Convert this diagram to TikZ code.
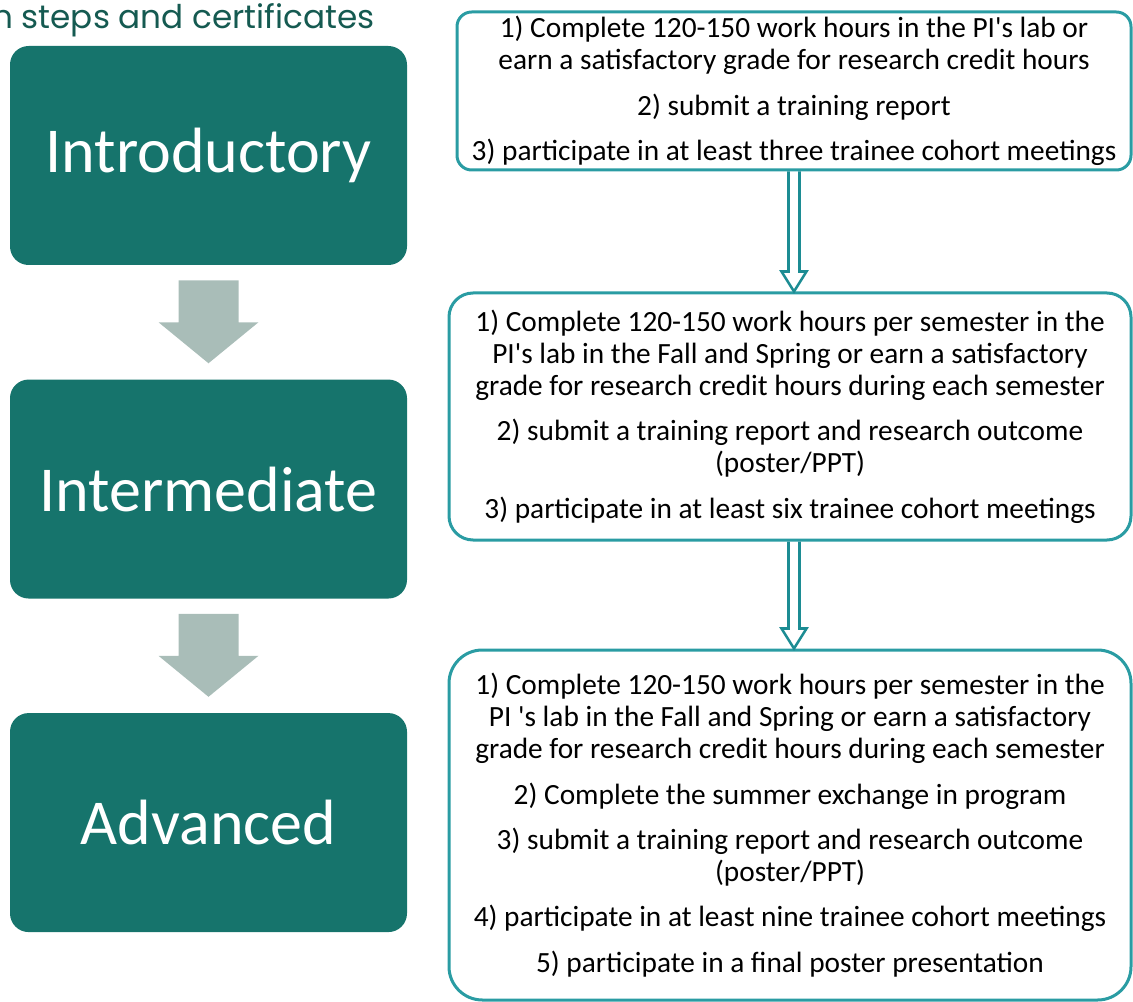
\documentclass[tikz,border=0pt]{standalone}
\usepackage{fontspec}
\setmainfont{Carlito}[Ligatures=TeXOff]
\newfontfamily\headfont{Poppins}
\usetikzlibrary{positioning,calc}

\definecolor{stageteal}{HTML}{16746C}
\definecolor{framecyan}{HTML}{2A9CA3}
\definecolor{linkteal}{HTML}{1C8C93}
\definecolor{stepgray}{HTML}{A9BDB8}
\definecolor{headgreen}{HTML}{155A51}

\tikzset{
  heading/.style={text=headgreen,font=\headfont\fontsize{24.5}{28}\selectfont,inner sep=0pt},
  stage/.style={fill=stageteal,text=white,rounded corners=14pt,
    minimum width=297.75pt,minimum height=164.25pt,font=\fontsize{48}{52}\selectfont},
  reqbox/.style={draw=framecyan,line width=2.25pt,align=center,inner sep=0pt,
    font=\fontsize{22}{24}\selectfont},
  steparrow/.style={fill=stepgray},
  linkarrow/.style={draw=linkteal,line width=1.9pt}
}

\begin{document}
\begin{tikzpicture}[x=0.75pt,y=-0.75pt,node distance=85.5pt]
\useasboundingbox (0,0) rectangle (1133,1002);

% heading, runs off the left edge
\node[heading,anchor=base east] (title) at (375,29) {n steps and certificates};

% the three stages
\node[stage] (intro) at (208.5,155.5) {Introductory};
\node[stage,below=of intro] (inter) {Intermediate};
\node[stage,below=of inter] (adv) {Advanced};

% requirements for each stage
\node[reqbox,minimum width=505.5pt,minimum height=118.5pt,rounded corners=11pt] (req1) at (794,91)
  {1) Complete 120-150 work hours in the PI's lab or\\
   earn a satisfactory grade for research credit hours\\[10pt]
   2) submit a training report\\[10pt]
   3) participate in at least three trainee cohort meetings};
\node[reqbox,minimum width=511.5pt,minimum height=185.25pt,rounded corners=18pt] (req2) at (790,416.5)
  {1) Complete 120-150 work hours per semester in the\\
   PI's lab in the Fall and Spring or earn a satisfactory\\
   grade for research credit hours during each semester\\[10pt]
   2) submit a training report and research outcome\\
   (poster/PPT)\\[10pt]
   3) participate in at least six trainee cohort meetings};
\node[reqbox,minimum width=511.5pt,minimum height=262.5pt,rounded corners=25pt] (req3) at (790,825)
  {1) Complete 120-150 work hours per semester in the\\
   PI 's lab in the Fall and Spring or earn a satisfactory\\
   grade for research credit hours during each semester\\[10pt]
   2) Complete the summer exchange in program\\[10pt]
   3) submit a training report and research outcome\\
   (poster/PPT)\\[10pt]
   4) participate in at least nine trainee cohort meetings\\[10pt]
   5) participate in a final poster presentation};

% block arrows between stages
\foreach \a/\b in {intro/inter,inter/adv}
  \fill[steparrow] ($(\a.south)+(-30,15)$) -- ++(0,42) -- ++(-20,0)
    -- ($(\b.north)+(0,-16)$) -- ($(\a.south)+(50,57)$) -- ++(-20,0)
    -- ($(\a.south)+(30,15)$) -- cycle;

% hollow arrows between requirement boxes
\foreach \a/\b in {req1/req2,req2/req3}
  \draw[linkarrow] ($(\a.south -| req1.south)+(-5.5,0)$)
    -- ($(\b.north -| req1.south)+(-5.5,-20)$) -- ++(-7,0)
    -- (\b.north -| req1.south) -- ++(12.5,-20) -- ++(-7,0)
    -- ($(\a.south -| req1.south)+(5.5,0)$);
\end{tikzpicture}
\end{document}
